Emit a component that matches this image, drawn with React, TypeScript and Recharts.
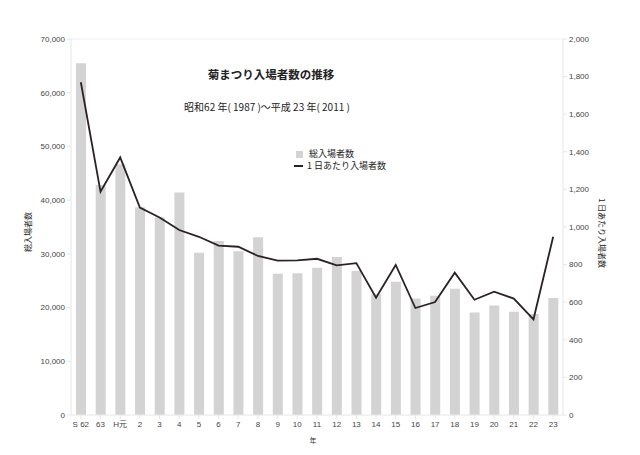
import React from 'react';
import {
  ComposedChart,
  Bar,
  Line,
  XAxis,
  YAxis,
  ReferenceLine,
} from 'recharts';

const years = [
  'S 62', '63', 'H元', '2', '3', '4', '5', '6', '7', '8', '9', '10', '11',
  '12', '13', '14', '15', '16', '17', '18', '19', '20', '21', '22', '23',
];

// 総入場者数
const totalVisitors = [
  65500, 42800, 46700, 38700, 36800, 41400, 30200, 32400, 30500, 33100, 26300, 26400, 27400,
  29400, 26800, 22500, 24800, 21700, 22200, 23500, 19100, 20400, 19200, 18800, 21800,
];

// 1日あたり入場者数
const dailyVisitors = [
  1770, 1188, 1370, 1103, 1051, 984, 948, 901, 895, 846, 821, 823, 831,
  796, 808, 624, 798, 569, 601, 757, 613, 656, 619, 509, 948,
];

const leftTicks = [0, 10000, 20000, 30000, 40000, 50000, 60000, 70000];
const rightTicks = [0, 200, 400, 600, 800, 1000, 1200, 1400, 1600, 1800, 2000];

const data = years.map((y, i) => ({
  year: y,
  total: totalVisitors[i],
  daily: dailyVisitors[i],
}));

const FONT = '"Liberation Sans", "Noto Sans CJK JP", sans-serif';
const JP = '"Noto Sans CJK JP", "Liberation Sans", sans-serif';
const BAR = '#d3d3d3';
const LINE = '#2b2224';

const fmt = (v: number) => v.toLocaleString('en-US');

export default function App() {
  const tick = { fontSize: 8, fill: '#444', fontFamily: FONT };
  return (
    <div style={{ position: 'relative', width: 624, height: 440, fontFamily: JP }}>
      <ComposedChart
        width={624}
        height={440}
        data={data}
        barSize={10}
        margin={{ top: 31, right: 19, bottom: 13, left: 13 }}
      >
        <XAxis
          dataKey="year"
          height={20}
          tick={tick}
          tickSize={4}
          stroke="#e6e6e6"
          interval={0}
        />
        <YAxis
          yAxisId="left"
          width={50}
          domain={[0, 70000]}
          ticks={leftTicks}
          tickFormatter={fmt}
          tick={tick}
          tickSize={4}
          stroke="#e6e6e6"
        />
        <YAxis
          yAxisId="right"
          orientation="right"
          width={50}
          domain={[0, 2000]}
          ticks={rightTicks}
          tickFormatter={fmt}
          tick={tick}
          tickSize={4}
          stroke="#e6e6e6"
        />
        <ReferenceLine yAxisId="left" y={70000} stroke="#f0f0f0" />
        <Bar yAxisId="left" dataKey="total" fill={BAR} isAnimationActive={false} />
        <Line
          yAxisId="right"
          dataKey="daily"
          type="linear"
          stroke={LINE}
          strokeWidth={1.8}
          dot={false}
          isAnimationActive={false}
        />
      </ComposedChart>

      {/* titles */}
      <div style={{ position: 'absolute', left: 263, top: 58, transform: 'translateX(-50%)', fontSize: 11.5, fontWeight: 700, color: '#222', whiteSpace: 'nowrap' }}>
        菊まつり入場者数の推移
      </div>
      <div style={{ position: 'absolute', left: 259, top: 91, transform: 'translateX(-50%)', fontSize: 10, color: '#222', whiteSpace: 'nowrap' }}>
        昭和62 年( 1987 )〜平成 23 年( 2011 )
      </div>

      {/* legend */}
      <div style={{ position: 'absolute', left: 286, top: 140, fontSize: 9, color: '#222', lineHeight: '12px', whiteSpace: 'nowrap' }}>
        <div style={{ display: 'flex', alignItems: 'center', height: 12 }}>
          <span style={{ display: 'inline-block', width: 7, height: 7, background: BAR, marginLeft: 2, marginRight: 6 }} />
          総入場者数
        </div>
        <div style={{ display: 'flex', alignItems: 'center', height: 12 }}>
          <span style={{ display: 'inline-block', width: 9, height: 2, background: LINE, marginRight: 4 }} />
          1 日あたり入場者数
        </div>
      </div>

      {/* axis labels */}
      <div style={{ position: 'absolute', left: 19, top: 224, transform: 'translate(-50%, -50%) rotate(-90deg)', fontSize: 8, color: '#222', whiteSpace: 'nowrap' }}>
        総入場者数
      </div>
      <div style={{ position: 'absolute', left: 594, top: 225, transform: 'translate(-50%, -50%) rotate(90deg)', fontSize: 8, color: '#222', whiteSpace: 'nowrap' }}>
        1 日あたり入場者数
      </div>
      <div style={{ position: 'absolute', left: 305, top: 432, transform: 'translate(-50%, -50%)', fontSize: 7, color: '#333' }}>
        年
      </div>
    </div>
  );
}
